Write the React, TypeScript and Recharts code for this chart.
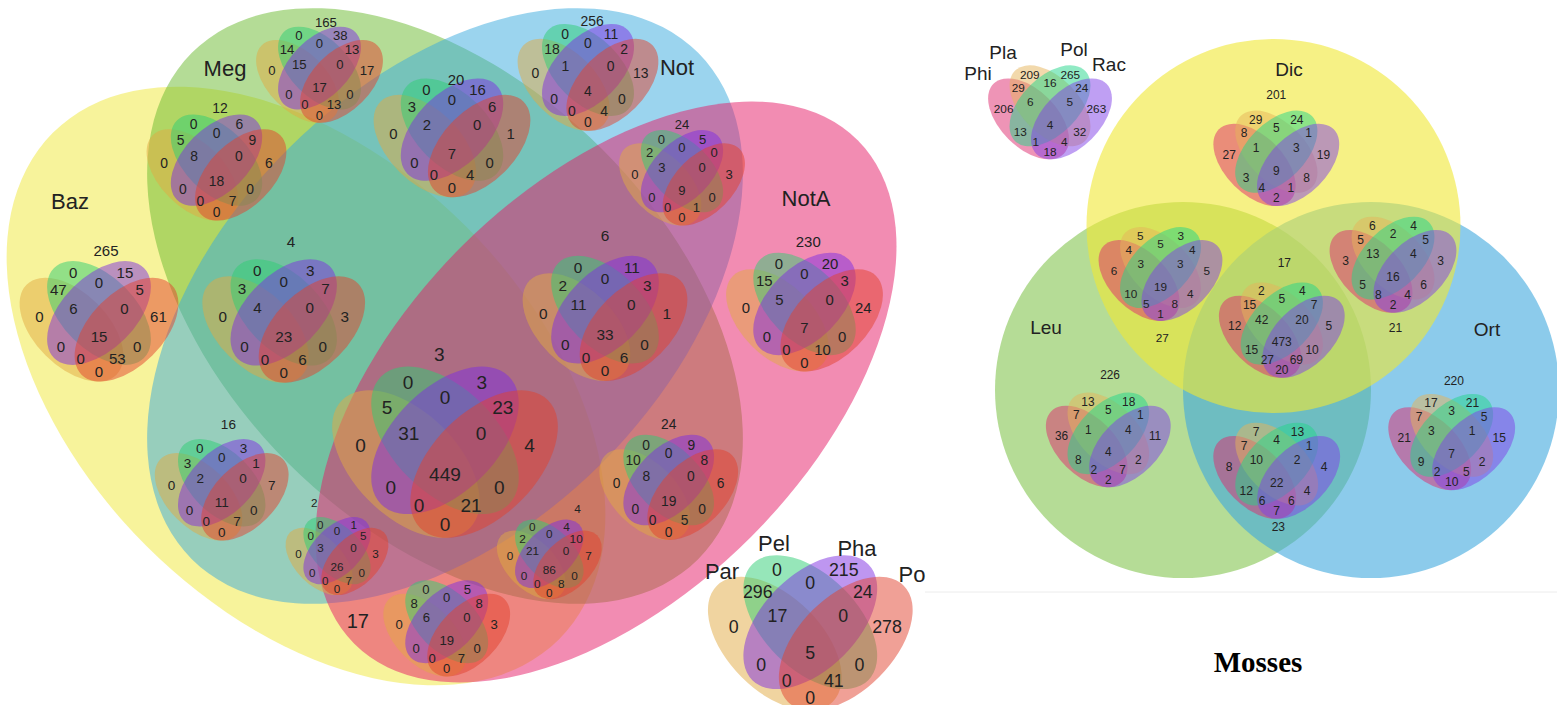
import { ScatterChart, Scatter, XAxis, YAxis, ReferenceLine } from "recharts";

const CHART_W = 1557;
const CHART_H = 705;
const X_DOMAIN: [number, number] = [0, 1557];
const Y_DOMAIN: [number, number] = [0, 705];
const SX = CHART_W / (X_DOMAIN[1] - X_DOMAIN[0]);
const SY = CHART_H / (Y_DOMAIN[1] - Y_DOMAIN[0]);

// order of the 16 regions of every small 4-set diagram (A left, B, C, D right)
const REGIONS = ["none", "B", "BC", "C", "AB", "CD", "A", "ABC", "BCD", "D", "ABCD", "AC", "BD", "ACD", "ABD", "AD"];

// left figure: Par / Pel / Pha / Po counts inside Baz / Meg / Not / NotA
const leftSets = ["Baz", "Meg", "Not", "NotA"];
const leftSubSets = ["Par", "Pel", "Pha", "Po"];
const megOnly = [165, 0, 0, 38, 14, 13, 0, 15, 0, 17, 17, 0, 0, 0, 13, 0];
const notOnly = [256, 0, 0, 11, 18, 2, 0, 1, 0, 13, 4, 0, 0, 0, 4, 0];
const bazMeg = [12, 0, 0, 6, 5, 9, 0, 8, 0, 6, 18, 0, 0, 0, 7, 0];
const megNot = [20, 0, 0, 16, 3, 6, 0, 2, 0, 1, 7, 0, 0, 0, 4, 0];
const notNotA = [24, 0, 0, 5, 2, 0, 0, 3, 0, 3, 9, 0, 0, 0, 1, 0];
const bazOnly = [265, 0, 0, 15, 47, 5, 0, 6, 0, 61, 15, 0, 0, 0, 53, 0];
const bazMegNot = [4, 0, 0, 3, 3, 7, 0, 4, 0, 3, 23, 0, 0, 0, 6, 0];
const megNotNotA = [6, 0, 0, 11, 2, 3, 0, 11, 0, 1, 33, 0, 0, 0, 6, 0];
const notAOnly = [230, 0, 0, 20, 15, 3, 0, 5, 0, 24, 7, 0, 0, 0, 10, 0];
const allFour = [3, 0, 0, 3, 5, 23, 0, 31, 0, 4, 449, 0, 0, 0, 21, 0];
const bazNot = [16, 0, 0, 3, 3, 1, 0, 2, 0, 7, 11, 0, 0, 0, 7, 0];
const megNotA = [24, 0, 0, 9, 10, 8, 0, 8, 0, 6, 19, 0, 0, 0, 5, 0];
const bazNotNotA = [2, 0, 0, 1, 0, 5, 0, 3, 0, 3, 26, 0, 0, 0, 7, 0];
const bazMegNotA = [4, 0, 0, 4, 2, 10, 0, 21, 0, 7, 86, 0, 0, 0, 8, 0];
const bazNotA = [17, 0, 0, 5, 8, 8, 0, 6, 0, 3, 19, 0, 0, 0, 7, 0];
const leftOutside = [null, 0, 0, 215, 296, 24, 0, 17, 0, 278, 5, 0, 0, 0, 41, 0];

// right figure: Phi / Pla / Pol / Rac counts inside Dic / Leu / Ort
const mossSets = ["Dic", "Leu", "Ort"];
const mossSubSets = ["Phi", "Pla", "Pol", "Rac"];
const mossOutside = [null, 209, 16, 265, 29, 24, 206, 6, 5, 263, 4, 13, 32, 1, 4, 18];
const dicOnly = [201, 29, 5, 24, 8, 1, 27, 1, 3, 19, 9, 3, 8, 4, 1, 2];
const dicLeu = [27, 5, 5, 3, 4, 4, 6, 3, 3, 5, 19, 10, 4, 5, 8, 1];
const dicLeuOrt = [17, 2, 5, 4, 15, 7, 12, 42, 20, 5, 473, 15, 10, 27, 69, 20];
const dicOrt = [21, 6, 2, 4, 5, 5, 3, 13, 4, 3, 16, 5, 6, 8, 4, 2];
const leuOnly = [226, 13, 5, 18, 7, 1, 36, 1, 4, 11, 4, 8, 2, 2, 7, 2];
const leuOrt = [23, 7, 4, 13, 7, 1, 8, 10, 2, 4, 22, 12, 4, 6, 6, 7];
const ortOnly = [220, 17, 3, 21, 7, 5, 21, 3, 1, 15, 7, 9, 2, 2, 5, 10];

const mossTitle = "Mosses";

// ---- layout (in units of the diagram width w, origin at the ABCD label) ----
const LABEL_POS: Record<string, [number, number]> = {
  none: [0, -0.53],
  B: [-0.163, -0.404],
  C: [0.163, -0.404],
  BC: [0, -0.34],
  AB: [-0.256, -0.295],
  CD: [0.256, -0.295],
  A: [-0.374, -0.126],
  D: [0.374, -0.126],
  ABC: [-0.16, -0.18],
  BCD: [0.16, -0.18],
  ABCD: [0, 0],
  AC: [-0.24, 0.06],
  BD: [0.24, 0.06],
  ACD: [-0.115, 0.14],
  ABD: [0.115, 0.14],
  AD: [0, 0.222],
};
const ELLIPSES = [
  { dx: -0.173, dy: -0.044, angle: 45 },
  { dx: 0, dy: -0.149, angle: 45 },
  { dx: 0, dy: -0.149, angle: -45 },
  { dx: 0.173, dy: -0.044, angle: -45 },
];
const ERX = 0.4;
const ERY = 0.23;

const LEFT_COLORS = ["#e1a941", "#2dcd73", "#7d2de1", "#e1412d"];
const MOSS_COLORS = ["#dd2a6e", "#e6b45a", "#22d68a", "#8040e8"];

const LEFT_VENNS = [
  { values: megOnly, x: 319.5, y: 87, w: 127, nx: 0.05, ny: -0.51 },
  { values: notOnly, x: 588, y: 91, w: 141, nx: 0.03, ny: -0.5 },
  { values: bazMeg, x: 216.5, y: 181, w: 140, nx: 0.025, ny: -0.52 },
  { values: megNot, x: 452, y: 153, w: 157, nx: 0.025, ny: -0.47 },
  { values: notNotA, x: 682, y: 190, w: 126, nx: 0, ny: -0.516 },
  { values: bazOnly, x: 99, y: 336.7, w: 159, nx: 0.044, ny: -0.54 },
  { values: bazMegNot, x: 283.7, y: 336.7, w: 163, nx: 0.045, ny: -0.583 },
  { values: megNotNotA, x: 605, y: 334.3, w: 165, nx: 0, ny: -0.6 },
  { values: notAOnly, x: 804.5, y: 327.3, w: 157, nx: 0.024, ny: -0.545 },
  { values: allFour, x: 445, y: 474, w: 226, nx: -0.025, ny: -0.53 },
  { values: bazNot, x: 221.7, y: 502.7, w: 134, nx: 0.05, ny: -0.587 },
  { values: megNotA, x: 668.7, y: 500.7, w: 139, nx: 0, ny: -0.55 },
  { values: bazNotNotA, x: 337, y: 566, w: 103, nx: -0.22, ny: -0.62 },
  { values: bazMegNotA, x: 549.3, y: 569.5, w: 105, nx: 0.27, ny: -0.576 },
  { values: bazNotA, x: 446.7, y: 640.7, w: 127, nx: -0.7, ny: -0.155, noneSize: 20 },
  { values: leftOutside, x: 810.3, y: 652.7, w: 205, nx: 0, ny: 0 },
];
const MOSS_VENNS = [
  { values: mossOutside, x: 1050, y: 124.3, w: 124, nx: 0, ny: 0 },
  { values: dicOnly, x: 1276.3, y: 170.5, w: 126, nx: 0, ny: -0.6 },
  { values: dicLeu, x: 1160.5, y: 286, w: 124, nx: 0.015, ny: 0.417 },
  { values: dicLeuOrt, x: 1281.8, y: 342.3, w: 126, nx: 0.02, ny: -0.627 },
  { values: dicOrt, x: 1393, y: 277, w: 127, nx: 0.02, ny: 0.4 },
  { values: leuOnly, x: 1108.3, y: 452, w: 125, nx: 0.014, ny: -0.62 },
  { values: leuOrt, x: 1276.7, y: 483, w: 127, nx: 0.013, ny: 0.344 },
  { values: ortOnly, x: 1451.7, y: 454.3, w: 127, nx: 0.018, ny: -0.577 },
];
// Baz, Meg, Not, NotA
const LEFT_BIG = [
  { x: 306, y: 386, rx: 358, ry: 226, angle: 45, color: "#efe737" },
  { x: 445, y: 306, rx: 358, ry: 222, angle: 45, color: "#69b92d" },
  { x: 445, y: 306, rx: 358, ry: 222, angle: -45, color: "#37a9dd" },
  { x: 606, y: 392, rx: 356, ry: 205, angle: -45, color: "#e51965" },
];
// Leu, Ort, Dic (drawing order)
const MOSS_CIRCLES = [
  { x: 1183, y: 390, r: 188, color: "#84c550" },
  { x: 1371, y: 390, r: 188, color: "#3fa8de" },
  { x: 1273.5, y: 226, r: 187, color: "#f0e834" },
];
const LEFT_SET_POS = [[70, 201], [225, 68], [677, 67], [806, 198]];
const LEFT_SUB_POS = [[722, 571], [774, 543], [857, 548], [912, 574]];
const MOSS_SET_POS = [[1289, 69], [1046, 327], [1487, 329]];
const MOSS_SUB_POS = [[978, 73], [1003, 52], [1074, 49], [1109, 64]];

// ---- build scatter datasets ----
type Ell = { x: number; y: number; rx: number; ry: number; angle: number; fill: string; opacity: number };
type Lbl = { x: number; y: number; text: string; size: number; family?: string; weight?: string };

const fourSet = (x: number, y: number, w: number, colors: string[], opacity: number): Ell[] =>
  ELLIPSES.map((e, i) => ({
    x: x + e.dx * w,
    y: y + e.dy * w,
    rx: ERX * w,
    ry: ERY * w,
    angle: e.angle,
    fill: colors[i],
    opacity,
  }));

const bigEllipses: Ell[] = [
  ...LEFT_BIG.map((e) => ({ x: e.x, y: e.y, rx: e.rx, ry: e.ry, angle: e.angle, fill: e.color, opacity: 0.5 })),
  ...MOSS_CIRCLES.map((c) => ({ x: c.x, y: c.y, rx: c.r, ry: c.r, angle: 0, fill: c.color, opacity: 0.6 })),
];

const smallEllipses: Ell[] = [
  ...LEFT_VENNS.flatMap((v) => fourSet(v.x, v.y, v.w, LEFT_COLORS, 0.5)),
  ...MOSS_VENNS.flatMap((v) => fourSet(v.x, v.y, v.w, MOSS_COLORS, 0.5)),
];

const vennLabels = (venns: any[], sizeOf: (w: number) => number): Lbl[] =>
  venns.flatMap((v) =>
    REGIONS.map((r, i) => {
      const val = v.values[i];
      if (val === null) return null;
      const [dx, dy] = r === "none" ? [v.nx, v.ny] : LABEL_POS[r];
      const size = r === "none" && v.noneSize ? v.noneSize : sizeOf(v.w);
      return { x: v.x + dx * v.w, y: v.y + dy * v.w, text: String(val), size };
    }).filter(Boolean) as Lbl[]
  );

const numberLabels: Lbl[] = [
  ...vennLabels(LEFT_VENNS, (w) => 5.5 + 0.06 * w),
  ...vennLabels(MOSS_VENNS, (w) => 0.095 * w),
];

const nameLabels: Lbl[] = [
  ...leftSets.map((t, i) => ({ x: LEFT_SET_POS[i][0], y: LEFT_SET_POS[i][1], text: t, size: 22 })),
  ...leftSubSets.map((t, i) => ({ x: LEFT_SUB_POS[i][0], y: LEFT_SUB_POS[i][1], text: t, size: 22 })),
  ...mossSets.map((t, i) => ({ x: MOSS_SET_POS[i][0], y: MOSS_SET_POS[i][1], text: t, size: 19 })),
  ...mossSubSets.map((t, i) => ({ x: MOSS_SUB_POS[i][0], y: MOSS_SUB_POS[i][1], text: t, size: 19 })),
  { x: 1258, y: 662, text: mossTitle, size: 29, family: "'Liberation Serif', 'Times New Roman', serif", weight: "bold" },
];

const renderEllipse = (p: any) => {
  const { cx, cy, payload } = p;
  return (
    <ellipse
      cx={cx}
      cy={cy}
      rx={payload.rx * SX}
      ry={payload.ry * SY}
      transform={`rotate(${payload.angle} ${cx} ${cy})`}
      fill={payload.fill}
      fillOpacity={payload.opacity}
    />
  );
};

const renderText = (p: any) => {
  const { cx, cy, payload } = p;
  return (
    <text
      x={cx}
      y={cy}
      textAnchor="middle"
      dominantBaseline="central"
      fontSize={payload.size}
      fontFamily={payload.family ?? "'Liberation Sans', Arial, sans-serif"}
      fontWeight={payload.weight ?? "normal"}
      fill={payload.weight ? "#000" : "#222"}
    >
      {payload.text}
    </text>
  );
};

export default function App() {
  return (
    <div style={{ position: "fixed", left: 0, top: 0, width: CHART_W, height: CHART_H, background: "#fff" }}>
      <ScatterChart width={CHART_W} height={CHART_H} margin={{ top: 0, right: 0, bottom: 0, left: 0 }}>
        <XAxis type="number" dataKey="x" domain={X_DOMAIN} hide allowDataOverflow />
        <YAxis type="number" dataKey="y" domain={Y_DOMAIN} reversed hide allowDataOverflow />
        <Scatter data={bigEllipses} shape={renderEllipse} isAnimationActive={false} />
        <ReferenceLine
          segment={[{ x: 925, y: 592 }, { x: 1557, y: 592 }]}
          stroke="#ececec"
          strokeWidth={1}
        />
        <Scatter data={smallEllipses} shape={renderEllipse} isAnimationActive={false} />
        <Scatter data={numberLabels} shape={renderText} isAnimationActive={false} />
        <Scatter data={nameLabels} shape={renderText} isAnimationActive={false} />
      </ScatterChart>
    </div>
  );
}
